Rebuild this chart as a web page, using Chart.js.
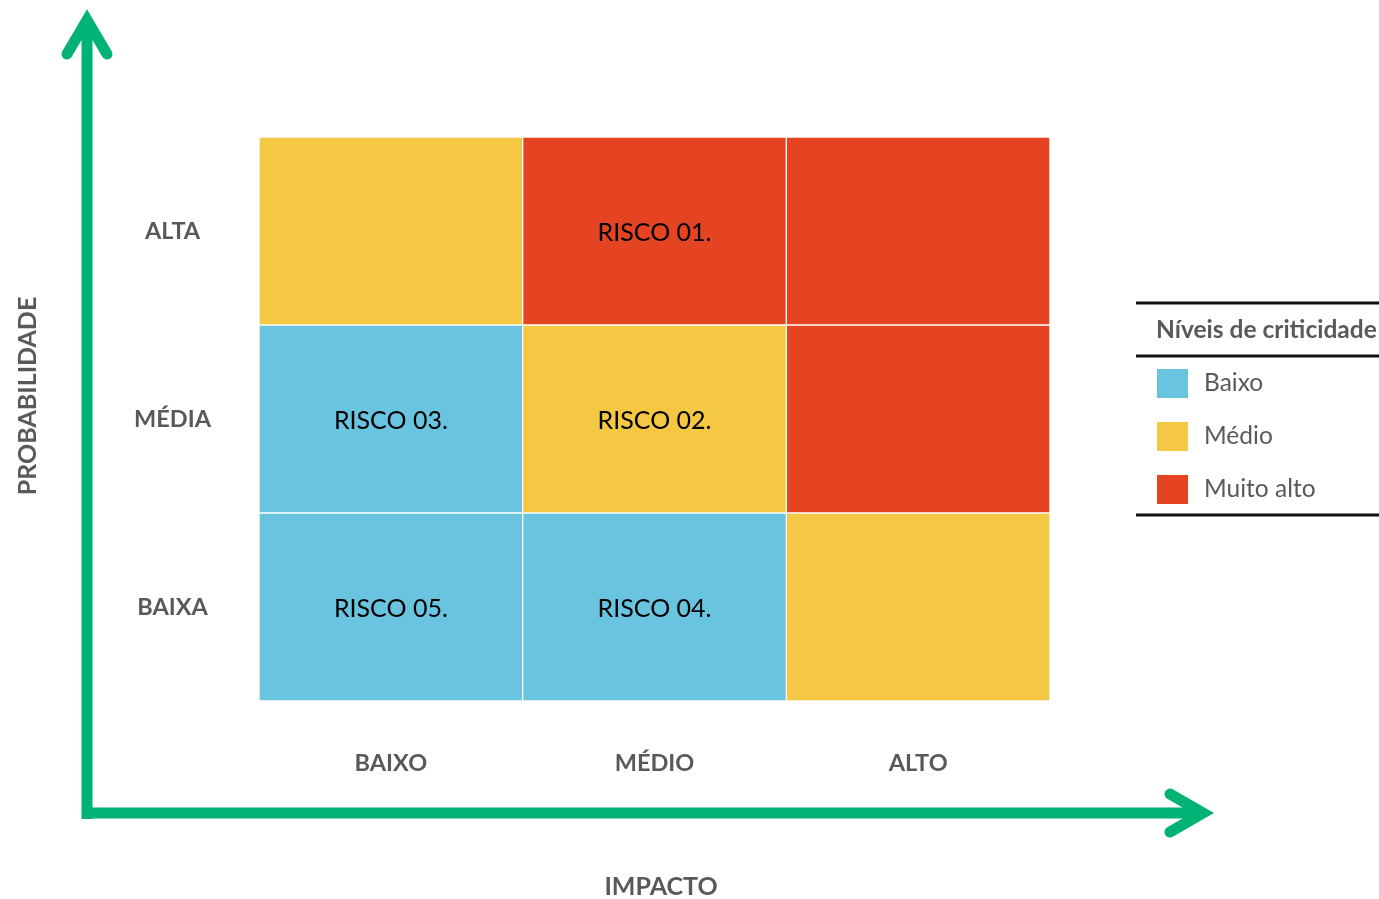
<!DOCTYPE html>
<html>
<head>
<meta charset="utf-8">
<script src="https://cdn.jsdelivr.net/npm/chart.js@4"></script>
<style>
  html, body { margin: 0; padding: 0; background: #fff; }
  #wrap { width: 1379px; height: 899px; }
</style>
</head>
<body>
<div id="wrap"><canvas id="matriz" width="1379" height="899"></canvas></div>
<script>
// eixos
const impacto = ['BAIXO', 'MÉDIO', 'ALTO'];
const probabilidade = ['BAIXA', 'MÉDIA', 'ALTA']; // de baixo para cima

// nível de criticidade por linha de probabilidade (0 baixo, 1 médio, 2 muito alto)
const nivelBaixa = [0, 0, 1];
const nivelMedia = [0, 1, 2];
const nivelAlta = [1, 2, 2];

// riscos em cada célula
const riscosBaixa = ['RISCO 05.', 'RISCO 04.', ''];
const riscosMedia = ['RISCO 03.', 'RISCO 02.', ''];
const riscosAlta = ['', 'RISCO 01.', ''];

// legenda
const niveis = ['Baixo', 'Médio', 'Muito alto'];
const coresNivel = ['#69c4e0', '#f4c842', '#e54423'];

const FONTE = 'Lato, "Open Sans", sans-serif';
const CINZA = '#595959';
const VERDE = '#00b274';

const linhas = [
  { label: probabilidade[0], nivel: nivelBaixa, riscos: riscosBaixa },
  { label: probabilidade[1], nivel: nivelMedia, riscos: riscosMedia },
  { label: probabilidade[2], nivel: nivelAlta, riscos: riscosAlta }
];

const datasets = linhas.map(l => ({
  label: l.label,
  data: impacto.map(() => 1),
  backgroundColor: l.nivel.map(n => coresNivel[n]),
  borderColor: '#ffffff',
  borderWidth: 1,
  borderSkipped: false,
  categoryPercentage: 1,
  barPercentage: 1,
  riscos: l.riscos
}));

// textos das células, setas e legenda
const extras = {
  id: 'extras',
  afterDatasetsDraw(chart) {
    const ctx = chart.ctx;
    ctx.save();
    ctx.fillStyle = '#000';
    ctx.font = '25px ' + FONTE;
    ctx.textAlign = 'center';
    ctx.textBaseline = 'middle';
    chart.data.datasets.forEach((ds, i) => {
      chart.getDatasetMeta(i).data.forEach((bar, j) => {
        const txt = ds.riscos[j];
        if (txt) ctx.fillText(txt, bar.x, (bar.y + bar.base) / 2 + 2);
      });
    });
    ctx.restore();
  },
  afterDraw(chart) {
    const ctx = chart.ctx;
    ctx.save();

    // setas
    ctx.strokeStyle = VERDE;
    ctx.lineWidth = 11;
    ctx.lineCap = 'butt';
    ctx.beginPath();
    ctx.moveTo(87, 819);
    ctx.lineTo(87, 20);
    ctx.moveTo(81.5, 813);
    ctx.lineTo(1203, 813);
    ctx.stroke();

    ctx.lineCap = 'round';
    ctx.lineJoin = 'miter';
    ctx.beginPath();
    ctx.moveTo(67, 54);
    ctx.lineTo(87, 20);
    ctx.lineTo(107, 54);
    ctx.stroke();
    ctx.beginPath();
    ctx.moveTo(1170, 794);
    ctx.lineTo(1203, 813);
    ctx.lineTo(1170, 832);
    ctx.stroke();

    // títulos dos eixos
    ctx.fillStyle = CINZA;
    ctx.font = 'bold 25px ' + FONTE;
    ctx.textAlign = 'center';
    ctx.textBaseline = 'middle';
    ctx.fillText('IMPACTO', 661, 887);
    ctx.save();
    ctx.translate(28, 396);
    ctx.rotate(-Math.PI / 2);
    ctx.fillText('PROBABILIDADE', 0, 0);
    ctx.restore();

    // legenda
    ctx.strokeStyle = '#111';
    ctx.lineWidth = 3;
    ctx.lineCap = 'butt';
    [303, 356, 515].forEach(y => {
      ctx.beginPath();
      ctx.moveTo(1136, y);
      ctx.lineTo(1379, y);
      ctx.stroke();
    });
    ctx.textAlign = 'left';
    ctx.font = 'bold 24.5px ' + FONTE;
    ctx.fillText('Níveis de criticidade', 1156, 330);
    ctx.font = '24.5px ' + FONTE;
    niveis.forEach((n, i) => {
      const cy = 383 + i * 53;
      ctx.fillStyle = coresNivel[i];
      ctx.fillRect(1157, cy - 14, 31, 29);
      ctx.fillStyle = CINZA;
      ctx.fillText(n, 1204, cy);
    });
    ctx.restore();
  }
};

new Chart(document.getElementById('matriz'), {
  type: 'bar',
  data: { labels: impacto, datasets: datasets },
  options: {
    responsive: false,
    animation: false,
    devicePixelRatio: 1,
    layout: { padding: { top: 137, right: 329, bottom: 0, left: 0 } },
    plugins: { legend: { display: false }, tooltip: { enabled: false } },
    scales: {
      x: {
        stacked: true,
        grid: { display: false, drawTicks: false },
        border: { display: false },
        ticks: {
          color: CINZA,
          font: { family: FONTE, size: 23.5, weight: 'bold' },
          padding: 48,
          maxRotation: 0
        },
        afterFit(scale) { scale.height = 198; }
      },
      y: {
        stacked: true,
        min: 0,
        max: 3,
        grid: { display: false, drawTicks: false },
        border: { display: false },
        afterBuildTicks(scale) {
          scale.ticks = [0.5, 1.5, 2.5].map(v => ({ value: v }));
        },
        ticks: {
          color: CINZA,
          font: { family: FONTE, size: 23.5, weight: 'bold' },
          crossAlign: 'center',
          padding: 48,
          callback: v => probabilidade[Math.floor(v)]
        },
        afterFit(scale) { scale.width = 259; }
      }
    }
  },
  plugins: [extras]
});
</script>
</body>
</html>
